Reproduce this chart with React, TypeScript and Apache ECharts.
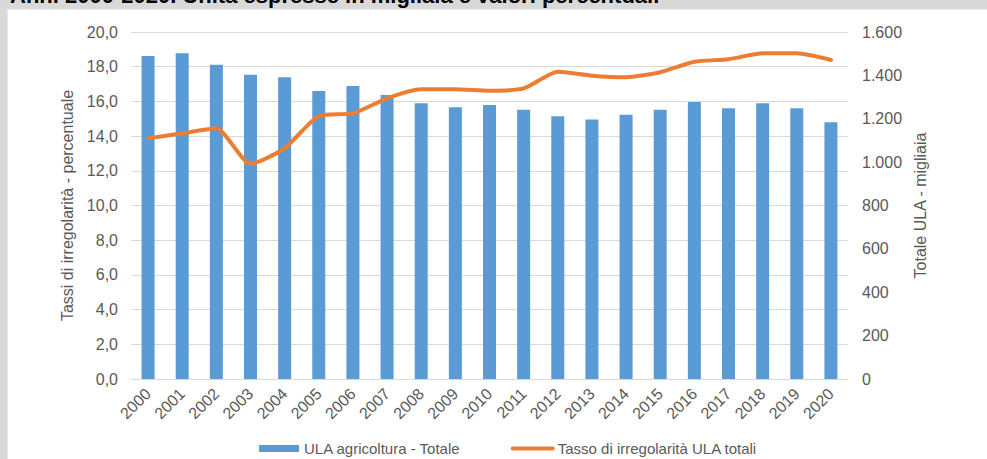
import React, { useEffect, useRef } from "react";
import * as echarts from "echarts";

const years = ["2000","2001","2002","2003","2004","2005","2006","2007","2008","2009","2010","2011","2012","2013","2014","2015","2016","2017","2018","2019","2020"];
const ulaTotale = [1489,1502,1449,1403,1391,1328,1351,1310,1271,1253,1263,1242,1212,1196,1219,1242,1277,1248,1271,1248,1184];
const tassoIrregolarita = [13.87,14.16,14.45,12.39,13.3,15.16,15.31,16.18,16.7,16.7,16.62,16.75,17.71,17.48,17.39,17.68,18.29,18.43,18.77,18.77,18.39];
const titleText = "Anni 2000-2020. Unità espresse in migliaia e valori percentuali";
const barName = "ULA agricoltura - Totale";
const lineName = "Tasso di irregolarità ULA totali";
const leftAxisName = "Tassi di irregolarità - percentuale";
const rightAxisName = "Totale ULA - migliaia";

const FONT = "'Liberation Sans', Arial, sans-serif";
const GREY = "#595959";

export default function App() {
  const ref = useRef<HTMLDivElement>(null);
  useEffect(() => {
    if (!ref.current) return;
    const chart = echarts.init(ref.current, null, { renderer: "svg" });
    chart.setOption({
      animation: false,
      backgroundColor: "#ffffff",
      textStyle: { fontFamily: FONT },
      graphic: [
        { type: "rect", z: -10, shape: { x: 0, y: 0, width: 987, height: 9.5 }, style: { fill: "#d9d9d9" } },
        { type: "rect", z: -10, shape: { x: 0, y: 0, width: 7.5, height: 459 }, style: { fill: "#d9d9d9" } },
        {
          type: "text", x: 10, y: 6, z: 10,
          style: { text: titleText, fill: "#000", font: `bold 22px ${FONT}`, verticalAlign: "bottom" },
        },
      ],
      grid: { left: 131, right: 139, top: 32, bottom: 80 },
      legend: {
        left: 254, top: 436, itemWidth: 40, itemHeight: 7, itemGap: 50,
        textStyle: { color: GREY, fontSize: 15, fontFamily: FONT },
        data: [
          { name: barName, icon: "rect" },
          { name: lineName, itemStyle: { opacity: 0 }, lineStyle: { width: 4, color: "#ED7D31" } },
        ],
      },
      xAxis: {
        type: "category",
        data: years,
        axisLine: { lineStyle: { color: "#d9d9d9", width: 1 } },
        axisTick: { show: false },
        axisLabel: { rotate: 45, margin: 12, color: GREY, fontSize: 16, fontFamily: FONT },
      },
      yAxis: [
        {
          type: "value", min: 0, max: 20, interval: 2,
          name: leftAxisName, nameLocation: "middle", nameGap: 55, nameRotate: 90,
          nameTextStyle: { color: GREY, fontSize: 16, fontFamily: FONT },
          axisLine: { show: false }, axisTick: { show: false },
          splitLine: { lineStyle: { color: "#d9d9d9", width: 1 } },
          axisLabel: { color: GREY, fontSize: 16, margin: 13, fontFamily: FONT, formatter: (v: number) => v.toFixed(1).replace(".", ",") },
        },
        {
          type: "value", min: 0, max: 1600, interval: 200, position: "right",
          name: rightAxisName, nameLocation: "middle", nameGap: 64, nameRotate: 90,
          nameTextStyle: { color: GREY, fontSize: 16, fontFamily: FONT },
          axisLine: { show: false }, axisTick: { show: false },
          splitLine: { show: false },
          axisLabel: { color: GREY, fontSize: 16, margin: 14, fontFamily: FONT, formatter: (v: number) => String(v).replace(/\B(?=(\d{3})+(?!\d))/g, ".") },
        },
      ],
      series: [
        {
          name: barName, type: "bar", yAxisIndex: 1, data: ulaTotale, barWidth: 13,
          itemStyle: { color: "#5B9BD5" },
        },
        {
          name: lineName, type: "line", yAxisIndex: 0, data: tassoIrregolarita,
          symbol: "none", smooth: 0.2,
          lineStyle: { color: "#ED7D31", width: 4, cap: "round", join: "round" },
          itemStyle: { color: "#ED7D31" },
        },
      ],
    });
    return () => chart.dispose();
  }, []);
  return <div ref={ref} style={{ position: "absolute", left: 0, top: 0, width: 987, height: 459 }} />;
}
